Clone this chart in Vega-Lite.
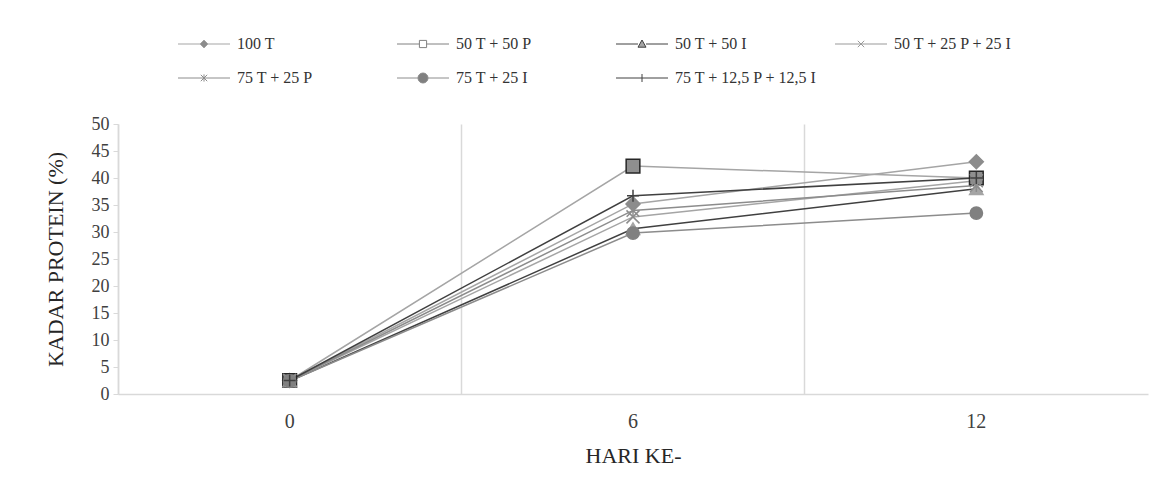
{
  "$schema": "https://vega.github.io/schema/vega-lite/v6.json",
  "width": 1030,
  "height": 270,
  "autosize": "none",
  "padding": {"left": 118, "top": 124, "right": 19, "bottom": 100},
  "background": "white",
  "config": {"font": "Liberation Serif", "view": {"stroke": null}},
  "data": {
    "values": [
      {"series": "100 T", "day": "0", "protein": 2.5},
      {"series": "100 T", "day": "6", "protein": 35.2},
      {"series": "100 T", "day": "12", "protein": 43.0},
      {"series": "50 T + 50 P", "day": "0", "protein": 2.5},
      {"series": "50 T + 50 P", "day": "6", "protein": 42.2},
      {"series": "50 T + 50 P", "day": "12", "protein": 40.0},
      {"series": "50 T + 50 I", "day": "0", "protein": 2.4},
      {"series": "50 T + 50 I", "day": "6", "protein": 30.6},
      {"series": "50 T + 50 I", "day": "12", "protein": 38.0},
      {"series": "50 T + 25 P + 25 I", "day": "0", "protein": 2.5},
      {"series": "50 T + 25 P + 25 I", "day": "6", "protein": 32.8},
      {"series": "50 T + 25 P + 25 I", "day": "12", "protein": 39.5},
      {"series": "75 T + 25 P", "day": "0", "protein": 2.5},
      {"series": "75 T + 25 P", "day": "6", "protein": 34.0},
      {"series": "75 T + 25 P", "day": "12", "protein": 38.6},
      {"series": "75 T + 25 I", "day": "0", "protein": 2.4},
      {"series": "75 T + 25 I", "day": "6", "protein": 29.8},
      {"series": "75 T + 25 I", "day": "12", "protein": 33.5},
      {"series": "75 T + 12,5 P + 12,5 I", "day": "0", "protein": 2.5},
      {"series": "75 T + 12,5 P + 12,5 I", "day": "6", "protein": 36.7},
      {"series": "75 T + 12,5 P + 12,5 I", "day": "12", "protein": 40.0}
    ]
  },
  "encoding": {
    "x": {
      "field": "day",
      "type": "ordinal",
      "sort": ["0", "6", "12"],
      "scale": {"type": "band", "paddingInner": 0, "paddingOuter": 0},
      "axis": {
        "title": "HARI KE-",
        "labelAngle": 0,
        "grid": true,
        "gridColor": "#d9d9d9",
        "gridWidth": 1.5,
        "bandPosition": 0,
        "ticks": false,
        "domainColor": "#d9d9d9",
        "domainWidth": 1.5,
        "labelFontSize": 20,
        "labelColor": "#404040",
        "labelPadding": 17,
        "titleFontSize": 22,
        "titleFontWeight": "normal",
        "titleColor": "#262626",
        "titlePadding": 14
      }
    },
    "y": {
      "field": "protein",
      "type": "quantitative",
      "scale": {"domain": [0, 50]},
      "axis": {
        "title": "KADAR PROTEIN (%)",
        "values": [0, 5, 10, 15, 20, 25, 30, 35, 40, 45, 50],
        "grid": false,
        "tickSize": 5,
        "tickColor": "#d9d9d9",
        "domainColor": "#d9d9d9",
        "domainWidth": 1.5,
        "labelFontSize": 18,
        "labelColor": "#404040",
        "labelPadding": 4,
        "titleFontSize": 22,
        "titleFontWeight": "normal",
        "titleColor": "#262626",
        "titlePadding": 24
      }
    }
  },
  "layer": [
    {
      "mark": {"type": "line", "strokeWidth": 1.5},
      "encoding": {
        "stroke": {
          "field": "series",
          "type": "nominal",
          "scale": {
            "domain": ["100 T", "50 T + 50 P", "50 T + 50 I", "50 T + 25 P + 25 I", "75 T + 25 P", "75 T + 25 I", "75 T + 12,5 P + 12,5 I"],
            "range": ["#a5a5a5", "#a5a5a5", "#404040", "#a5a5a5", "#8c8c8c", "#8c8c8c", "#404040"]
          },
          "legend": null
        }
      }
    },
    {
      "mark": {"type": "point", "filled": true, "opacity": 1, "strokeWidth": 1.5},
      "encoding": {
        "shape": {
          "field": "series",
          "type": "nominal",
          "scale": {
            "domain": ["100 T", "50 T + 50 P", "50 T + 50 I", "50 T + 25 P + 25 I", "75 T + 25 P", "75 T + 25 I", "75 T + 12,5 P + 12,5 I"],
            "range": ["diamond", "square", "triangle-up", "M-1,-1L1,1M-1,1L1,-1", "M-1,-1L1,1M-1,1L1,-1M0,-1V1", "circle", "M-1,0H1M0,-1V1"]
          },
          "legend": null
        },
        "fill": {
          "field": "series",
          "type": "nominal",
          "scale": {
            "domain": ["100 T", "50 T + 50 P", "50 T + 50 I", "50 T + 25 P + 25 I", "75 T + 25 P", "75 T + 25 I", "75 T + 12,5 P + 12,5 I"],
            "range": ["#8c8c8c", "#8f8f8f", "#a5a5a5", "#8c8c8c", "#8c8c8c", "#808080", "#404040"]
          },
          "legend": null
        },
        "stroke": {
          "field": "series",
          "type": "nominal",
          "scale": {
            "domain": ["100 T", "50 T + 50 P", "50 T + 50 I", "50 T + 25 P + 25 I", "75 T + 25 P", "75 T + 25 I", "75 T + 12,5 P + 12,5 I"],
            "range": ["#8c8c8c", "#262626", "#a5a5a5", "#8c8c8c", "#8c8c8c", "#808080", "#404040"]
          },
          "legend": null
        },
        "size": {
          "field": "series",
          "type": "nominal",
          "scale": {
            "domain": ["100 T", "50 T + 50 P", "50 T + 50 I", "50 T + 25 P + 25 I", "75 T + 25 P", "75 T + 25 I", "75 T + 12,5 P + 12,5 I"],
            "range": [196, 144, 170, 100, 100, 289, 196]
          },
          "legend": null
        }
      }
    },
    {
      "transform": [{"filter": "datum.protein < 0"}],
      "mark": {"type": "point", "filled": true, "opacity": 1, "size": 64, "strokeWidth": 1},
      "encoding": {
        "shape": {
          "field": "series",
          "type": "nominal",
          "scale": {
            "domain": ["100 T", "50 T + 50 P", "50 T + 50 I", "50 T + 25 P + 25 I", "75 T + 25 P", "75 T + 25 I", "75 T + 12,5 P + 12,5 I"],
            "range": [
              "M-6.5,0H-1M1,0H6.5M0,-1L1,0L0,1L-1,0Z",
              "M-6.5,0H-0.9M0.9,0H6.5M-0.9,-0.9H0.9V0.9H-0.9Z",
              "M-6.5,0H-1M1,0H6.5M0,-1L1,0.8L-1,0.8Z",
              "M-6.5,0H6.5M-0.8,-0.8L0.8,0.8M-0.8,0.8L0.8,-0.8",
              "M-6.5,0H6.5M-0.8,-0.8L0.8,0.8M-0.8,0.8L0.8,-0.8M0,-0.9V0.9",
              "M-6.5,0H-1.25M1.25,0H6.5M-1.25,0A1.25,1.25 0 1,0 1.25,0A1.25,1.25 0 1,0 -1.25,0Z",
              "M-6.5,0H6.5M0,-1V1"
            ]
          },
          "legend": {
            "title": null,
            "orient": "none",
            "direction": "horizontal",
            "legendX": 78,
            "legendY": -88,
            "columns": 4,
            "gridAlign": "all",
            "columnPadding": 15,
            "rowPadding": 18,
            "labelFont": "Liberation Serif",
            "labelFontSize": 16,
            "labelColor": "#333333",
            "labelOffset": 25,
            "labelLimit": 0,
            "symbolSize": 64,
            "symbolStrokeWidth": 1
          }
        },
        "stroke": {
          "field": "series",
          "type": "nominal",
          "scale": {
            "domain": ["100 T", "50 T + 50 P", "50 T + 50 I", "50 T + 25 P + 25 I", "75 T + 25 P", "75 T + 25 I", "75 T + 12,5 P + 12,5 I"],
            "range": ["#a5a5a5", "#808080", "#404040", "#999999", "#8c8c8c", "#8c8c8c", "#404040"]
          }
        },
        "fill": {
          "field": "series",
          "type": "nominal",
          "scale": {
            "domain": ["100 T", "50 T + 50 P", "50 T + 50 I", "50 T + 25 P + 25 I", "75 T + 25 P", "75 T + 25 I", "75 T + 12,5 P + 12,5 I"],
            "range": ["#8c8c8c", "#ffffff", "#a5a5a5", "#8c8c8c", "#8c8c8c", "#808080", "#404040"]
          }
        }
      }
    }
  ],
  "resolve": {"scale": {"shape": "independent", "stroke": "independent", "fill": "independent", "size": "independent"}}
}
